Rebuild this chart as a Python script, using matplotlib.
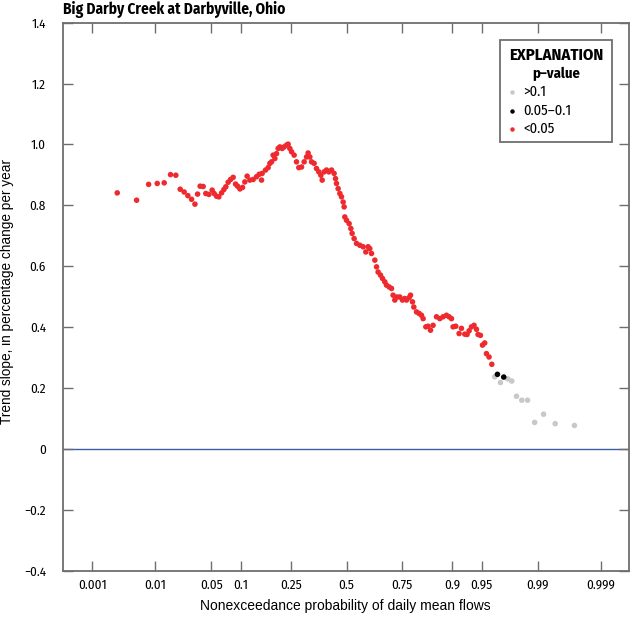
import math
import numpy as np
import matplotlib
matplotlib.use("Agg")
import matplotlib.pyplot as plt
from matplotlib.patches import Rectangle
from matplotlib.lines import Line2D

NARROW = ['Fira Sans Condensed', 'DejaVu Sans']
REGULAR = ['Liberation Sans', 'DejaVu Sans']
plt.rcParams['font.family'] = NARROW
plt.rcParams['font.stretch'] = 'condensed'

# ---------------- data ----------------
# nonexceedance probability and trend slope (% change per year), p < 0.05
prob_sig = [0.00266, 0.00536, 0.00807, 0.0107, 0.01334, 0.0162, 0.0190, 0.0216, 0.0242, 0.0269,
            0.0298, 0.0327, 0.0351, 0.0376, 0.0407, 0.0436, 0.0472, 0.0512, 0.0538, 0.0571,
            0.0603, 0.0644, 0.0680, 0.0712, 0.0751, 0.0794, 0.0841, 0.0887, 0.0927, 0.0975,
            0.1031, 0.1082, 0.1135, 0.1200, 0.1282, 0.1370, 0.1441, 0.1508, 0.1525, 0.1625,
            0.1704, 0.1757, 0.1811, 0.1862, 0.1919, 0.1974, 0.2030, 0.2089, 0.2171, 0.2242,
            0.2330, 0.2389, 0.2454, 0.2520, 0.2621, 0.2716, 0.2810, 0.2922, 0.3033, 0.3135,
            0.3203, 0.3278, 0.3354, 0.3468, 0.3576, 0.3681, 0.3775, 0.3836, 0.3928, 0.4040,
            0.4149, 0.4278, 0.4400, 0.4467, 0.4515, 0.4594, 0.4677, 0.4757, 0.4836, 0.4884,
            0.4916, 0.5000, 0.5126, 0.5209, 0.5271, 0.5368, 0.5484, 0.5643, 0.5800, 0.5927,
            0.6035, 0.6114, 0.6194, 0.6346, 0.6424, 0.6495, 0.6602, 0.6690, 0.6790, 0.6865,
            0.6977, 0.7078, 0.7143, 0.7214, 0.7307, 0.7415, 0.7518, 0.7606, 0.7670, 0.7767,
            0.7817, 0.7887, 0.7933, 0.8026, 0.8111, 0.8189, 0.8241, 0.8325, 0.8392, 0.8463,
            0.8536, 0.8630, 0.8716, 0.8798, 0.8878, 0.8938, 0.8990, 0.9024, 0.9079, 0.9144,
            0.9188, 0.9247, 0.9286, 0.9319, 0.9356, 0.9394, 0.9429, 0.9451, 0.9482, 0.9508,
            0.9535, 0.9555, 0.9584, 0.9613]
slope_sig = [0.841, 0.817, 0.869, 0.872, 0.874, 0.901, 0.899, 0.853, 0.844, 0.832,
             0.820, 0.804, 0.837, 0.863, 0.862, 0.839, 0.836, 0.850, 0.839, 0.830,
             0.828, 0.841, 0.852, 0.861, 0.876, 0.885, 0.892, 0.870, 0.863, 0.854,
             0.859, 0.877, 0.896, 0.883, 0.885, 0.894, 0.902, 0.883, 0.905, 0.916,
             0.924, 0.938, 0.943, 0.965, 0.954, 0.970, 0.987, 0.992, 0.987, 0.992,
             0.998, 1.001, 0.987, 0.976, 0.965, 0.943, 0.924, 0.926, 0.943, 0.959,
             0.972, 0.959, 0.943, 0.938, 0.921, 0.910, 0.899, 0.883, 0.910, 0.916,
             0.910, 0.916, 0.905, 0.888, 0.872, 0.855, 0.839, 0.828, 0.811, 0.795,
             0.762, 0.751, 0.740, 0.724, 0.708, 0.691, 0.675, 0.669, 0.664, 0.647,
             0.664, 0.658, 0.642, 0.620, 0.598, 0.581, 0.571, 0.560, 0.549, 0.538,
             0.532, 0.527, 0.505, 0.489, 0.499, 0.499, 0.489, 0.494, 0.489, 0.497,
             0.505, 0.483, 0.466, 0.450, 0.445, 0.439, 0.428, 0.401, 0.403, 0.390,
             0.406, 0.434, 0.428, 0.434, 0.439, 0.434, 0.428, 0.401, 0.403, 0.379,
             0.396, 0.377, 0.376, 0.388, 0.401, 0.406, 0.393, 0.376, 0.373, 0.341,
             0.348, 0.313, 0.302, 0.278]
# 0.05 <= p <= 0.1
prob_mid = [0.9667, 0.9720]
slope_mid = [0.245, 0.236]
# p > 0.1
prob_ns = [0.9642, 0.9693, 0.9750, 0.9777, 0.9806, 0.9834, 0.9861, 0.9889, 0.9917, 0.9944, 0.9972]
slope_ns = [0.237, 0.218, 0.230, 0.223, 0.173, 0.160, 0.160, 0.087, 0.114, 0.083, 0.077]

x_ticks = [0.001, 0.01, 0.05, 0.1, 0.25, 0.5, 0.75, 0.9, 0.95, 0.99, 0.999]
x_tick_labels = ['0.001', '0.01', '0.05', '0.1', '0.25', '0.5', '0.75', '0.9', '0.95', '0.99', '0.999']
y_ticks = [-0.4, -0.2, 0, 0.2, 0.4, 0.6, 0.8, 1.0, 1.2, 1.4]
y_tick_labels = ['\u22120.4', '\u22120.2', '0', '0.2', '0.4', '0.6', '0.8', '1.0', '1.2', '1.4']

# ---------------- probability scale helpers ----------------
def _ppf_scalar(p):
    p = min(max(p, 1e-12), 1 - 1e-12)
    a = [-3.969683028665376e+01, 2.209460984245205e+02, -2.759285104469687e+02,
         1.383577518672690e+02, -3.066479806614716e+01, 2.506628277459239e+00]
    b = [-5.447609879822406e+01, 1.615858368580409e+02, -1.556989798598866e+02,
         6.680131188771972e+01, -1.328068155288572e+01]
    c = [-7.784894002430293e-03, -3.223964580411365e-01, -2.400758277161838e+00,
         -2.549732539343734e+00, 4.374664141464968e+00, 2.938163982698783e+00]
    d = [7.784695709041462e-03, 3.224671290700398e-01, 2.445134137142996e+00,
         3.754408661907416e+00]
    plow = 0.02425
    if p < plow:
        q = math.sqrt(-2 * math.log(p))
        return (((((c[0]*q+c[1])*q+c[2])*q+c[3])*q+c[4])*q+c[5]) / \
               ((((d[0]*q+d[1])*q+d[2])*q+d[3])*q+1)
    if p > 1 - plow:
        q = math.sqrt(-2 * math.log(1 - p))
        return -(((((c[0]*q+c[1])*q+c[2])*q+c[3])*q+c[4])*q+c[5]) / \
                ((((d[0]*q+d[1])*q+d[2])*q+d[3])*q+1)
    q = p - 0.5
    r = q * q
    return (((((a[0]*r+a[1])*r+a[2])*r+a[3])*r+a[4])*r+a[5])*q / \
           (((((b[0]*r+b[1])*r+b[2])*r+b[3])*r+b[4])*r+1)

def ppf(p):
    arr = np.asarray(p, dtype=float)
    return np.vectorize(_ppf_scalar, otypes=[float])(arr) if arr.size else arr

def cdf(z):
    arr = np.asarray(z, dtype=float)
    return np.vectorize(lambda v: 0.5 * (1 + math.erf(v / math.sqrt(2))), otypes=[float])(arr) if arr.size else arr

# ---------------- figure ----------------
W, H = 632, 617
fig = plt.figure(figsize=(W / 100, H / 100), dpi=100)
L, R, T, B = 62.7, 628.7, 22.7, 570.7
ax = fig.add_axes([L / W, 1 - B / H, (R - L) / W, (B - T) / H])
ax.set_xscale('function', functions=(ppf, cdf))
ax.set_xlim(cdf(-3.45), cdf(3.43))
ax.set_ylim(-0.4, 1.4)

frame_col = '#6e6e6e'
for s in ax.spines.values():
    s.set_color(frame_col)
    s.set_linewidth(1.3)

ax.axhline(0, color='#3d5ca8', lw=1.0, zorder=1)

ms = 16
ax.scatter(prob_ns, slope_ns, s=ms, color='#c8c8c8', edgecolors='none', zorder=3)
ax.scatter(prob_mid, slope_mid, s=ms, color='#000000', edgecolors='none', zorder=4)
ax.scatter(prob_sig, slope_sig, s=ms, color='#ee2a2e', edgecolors='none', zorder=3)

ax.set_xticks(x_ticks)
ax.set_xticklabels(x_tick_labels)
ax.xaxis.set_minor_locator(matplotlib.ticker.NullLocator())
ax.set_yticks(y_ticks)
ax.set_yticklabels(y_tick_labels)
ax.tick_params(axis='both', direction='in', length=7, width=1.0, color=frame_col,
               top=True, right=True, labelsize=9.5, labelcolor='black')
ax.tick_params(axis='x', pad=6)
ax.tick_params(axis='y', pad=12)

ax.set_xlabel('Nonexceedance probability of daily mean flows', fontsize=10, family=REGULAR,
              fontstretch='normal')
ax.xaxis.set_label_coords(0.5, -0.052)
ax.set_ylabel('Trend slope, in percentage change per year', fontsize=9.8, family=REGULAR,
              fontstretch='normal')
ax.yaxis.set_label_coords(-0.086, 0.51)

fig.text(L / W, 1 - 10 / H, 'Big Darby Creek at Darbyville, Ohio', fontsize=11, fontweight='bold',
         ha='left', va='center')

# ---------------- explanation box ----------------
def fx(px):
    return px / W

def fy(py):
    return 1 - py / H

bx0, bx1, by0, by1 = 500, 612, 40, 142
fig.patches.append(Rectangle((fx(bx0), fy(by1)), fx(bx1) - fx(bx0), fy(by0) - fy(by1),
                             transform=fig.transFigure, facecolor='white',
                             edgecolor=frame_col, lw=1.3, zorder=5))
cx = (bx0 + bx1) / 2
fig.text(fx(cx), fy(55), 'EXPLANATION', fontsize=12, fontweight='bold', ha='center', va='center', zorder=6)
fig.text(fx(cx), fy(74), 'p\u2013value', fontsize=10.5, fontweight='bold', ha='center', va='center', zorder=6)
entries = [('>0.1', '#c8c8c8', 92), ('0.05\u20130.1', '#000000', 111), ('<0.05', '#ee2a2e', 129)]
for lab, col, py in entries:
    fig.lines.append(Line2D([fx(512)], [fy(py)], marker='o', ms=3.2, color=col, mec='none',
                            linestyle='none', transform=fig.transFigure, zorder=6))
    fig.text(fx(523), fy(py), lab, fontsize=10.5, ha='left', va='center', zorder=6)

fig.savefig('out.png', dpi=100)
